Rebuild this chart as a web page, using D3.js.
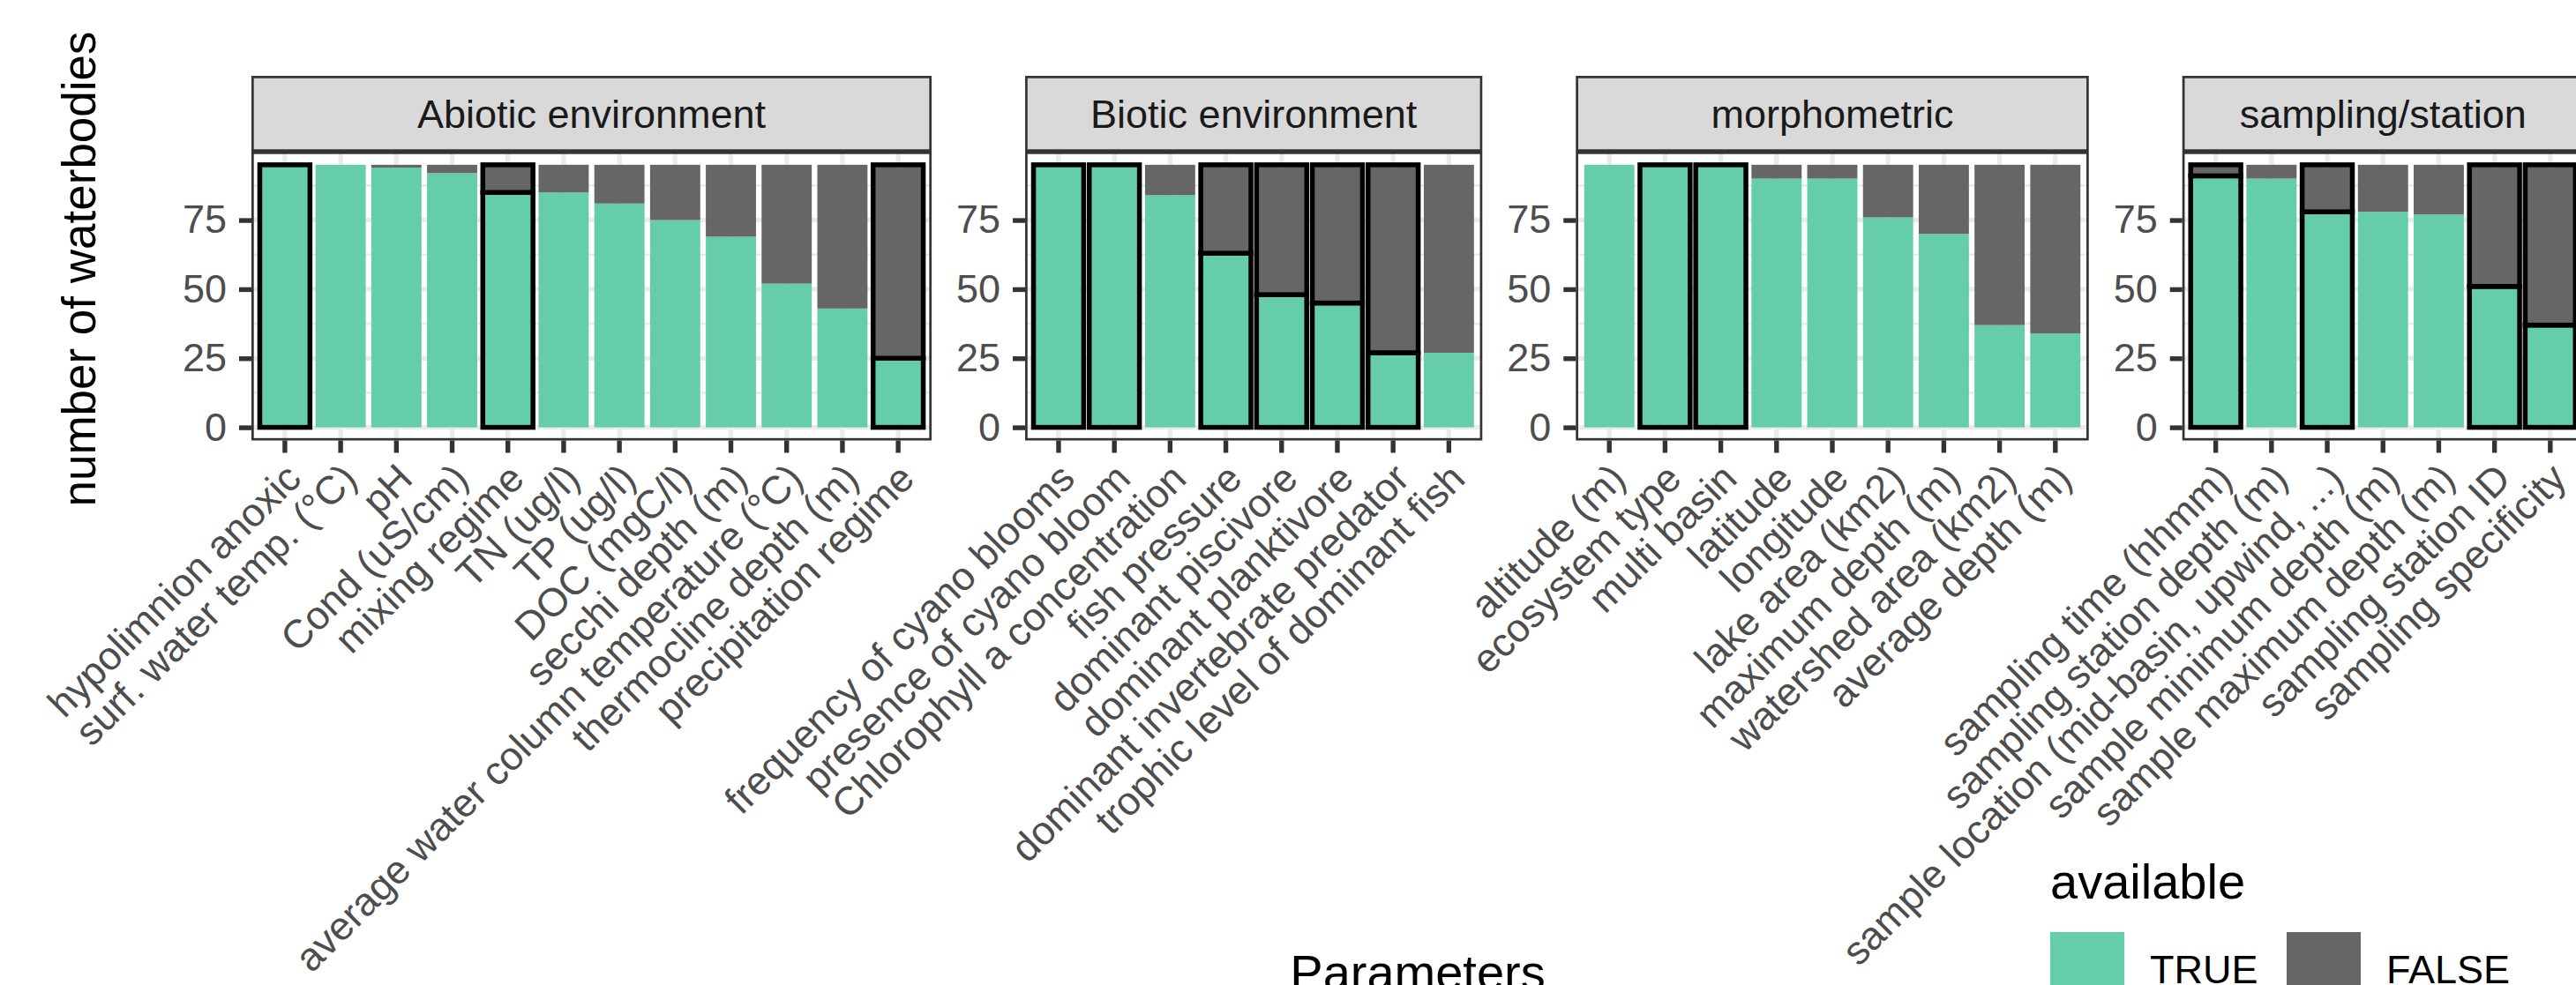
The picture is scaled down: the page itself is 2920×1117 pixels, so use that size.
<!DOCTYPE html>
<html>
<head>
<meta charset="utf-8">
<script src="https://cdn.jsdelivr.net/npm/d3@7"></script>
<style>
  html, body { margin: 0; padding: 0; background: #fff; }
  svg text { font-family: 'Liberation Sans', Arial, sans-serif; }
</style>
</head>
<body>
<div id="chart"></div>
<script>
/* =========================================================
   DATA
========================================================= */

const facetNames = ['Abiotic environment', 'Biotic environment', 'morphometric', 'sampling/station'];

const abioticParams = [
  'hypolimnion anoxic', 'surf. water temp. (°C)', 'pH', 'Cond (uS/cm)', 'mixing regime',
  'TN (ug/l)', 'TP (ug/l)', 'DOC (mgC/l)', 'secchi depth (m)',
  'average water column temperature (°C)', 'thermocline depth (m)', 'precipitation regime',
];
const abioticTrue = [95, 95, 94, 92, 85, 85, 81, 75, 69, 52, 43, 25];
const abioticFalse = [0, 0, 1, 3, 10, 10, 14, 20, 26, 43, 52, 70];
const abioticOutlined = [true, false, false, false, true, false, false, false, false, false, false, true];

const bioticParams = [
  'frequency of cyano blooms', 'presence of cyano bloom', 'Chlorophyll a concentration',
  'fish pressure', 'dominant piscivore', 'dominant planktivore',
  'dominant invertebrate predator', 'trophic level of dominant fish',
];
const bioticTrue = [95, 95, 84, 63, 48, 45, 27, 27];
const bioticFalse = [0, 0, 11, 32, 47, 50, 68, 68];
const bioticOutlined = [true, true, false, true, true, true, true, false];

const morphoParams = [
  'altitude (m)', 'ecosystem type', 'multi basin', 'latitude', 'longitude',
  'lake area (km2)', 'maximum depth (m)', 'watershed area (km2)', 'average depth (m)',
];
const morphoTrue = [95, 95, 95, 90, 90, 76, 70, 37, 34];
const morphoFalse = [0, 0, 0, 5, 5, 19, 25, 58, 61];
const morphoOutlined = [false, true, true, false, false, false, false, false, false];

const samplingParams = [
  'sampling time (hhmm)', 'sampling station depth (m)', 'sample location (mid-basin, upwind, ...)',
  'sample minimum depth (m)', 'sample maximum depth (m)', 'sampling station ID', 'sampling specificity',
];
const samplingTrue = [91, 90, 78, 78, 77, 51, 37];
const samplingFalse = [4, 5, 17, 17, 18, 44, 58];
const samplingOutlined = [true, false, true, false, false, true, true];

const availableKeys = ['TRUE', 'FALSE'];
const yTicks = [0, 25, 50, 75];
const yMinorTicks = [12.5, 37.5, 62.5, 87.5];

/* =========================================================
   CONFIGURATION
========================================================= */

const CONFIG = {
  width: 2920,
  height: 1117,
  plotLeft: 285,
  panelGap: 106,
  step: 63.2,
  stripTop: 86,
  panelTop: 172,
  panelBottom: 499.5,
  yDomain: [-4.75, 99.75],
  colors: { TRUE: '#66CDAA', FALSE: '#666666' },
  grid: '#EBEBEB',
  border: '#333333',
  strip: '#D9D9D9',
  tickText: '#4D4D4D',
  smallFont: 45,
  labelFont: 45,
  bigFont: 56,
};

const facets = [
  { name: facetNames[0], params: abioticParams, t: abioticTrue, f: abioticFalse, o: abioticOutlined },
  { name: facetNames[1], params: bioticParams, t: bioticTrue, f: bioticFalse, o: bioticOutlined },
  { name: facetNames[2], params: morphoParams, t: morphoTrue, f: morphoFalse, o: morphoOutlined },
  { name: facetNames[3], params: samplingParams, t: samplingTrue, f: samplingFalse, o: samplingOutlined },
];

/* =====================================================
   SVG
===================================================== */
const svg = d3
  .select('#chart')
  .append('svg')
  .attr('width', CONFIG.width)
  .attr('height', CONFIG.height)
  .style('display', 'block');

svg.append('rect').attr('width', CONFIG.width).attr('height', CONFIG.height).attr('fill', '#fff');

const yScale = d3
  .scaleLinear()
  .domain(CONFIG.yDomain)
  .range([CONFIG.panelBottom, CONFIG.panelTop]);

const stack = d3.stack().keys(availableKeys);

/* =====================================================
   PANELS
===================================================== */
let left = CONFIG.plotLeft;

facets.forEach((facet, fi) => {
  const n = facet.params.length;
  const w = (n + 0.2) * CONFIG.step;
  const x0 = left;
  left += w + CONFIG.panelGap;

  const xScale = d3
    .scaleBand()
    .domain(facet.params)
    .range([x0, x0 + w])
    .paddingInner(0.1)
    .paddingOuter(0.15);

  const g = svg.append('g').attr('class', 'facet-' + fi);

  g.append('clipPath')
    .attr('id', 'clip' + fi)
    .append('rect')
    .attr('x', x0)
    .attr('y', CONFIG.panelTop)
    .attr('width', w)
    .attr('height', CONFIG.panelBottom - CONFIG.panelTop);

  // strip
  g.append('rect')
    .attr('x', x0 + 1.35)
    .attr('y', CONFIG.stripTop + 1.35)
    .attr('width', w - 2.7)
    .attr('height', CONFIG.panelTop - CONFIG.stripTop - 2.7)
    .attr('fill', CONFIG.strip)
    .attr('stroke', CONFIG.border)
    .attr('stroke-width', 2.7);

  g.append('text')
    .attr('x', x0 + w / 2)
    .attr('y', (CONFIG.stripTop + CONFIG.panelTop) / 2)
    .attr('dy', '0.35em')
    .attr('text-anchor', 'middle')
    .attr('fill', '#1A1A1A')
    .attr('font-size', CONFIG.smallFont)
    .text(facet.name);

  const inner = g.append('g').attr('clip-path', `url(#clip${fi})`);

  // grid
  inner
    .selectAll('.minor')
    .data(yMinorTicks)
    .enter()
    .append('line')
    .attr('x1', x0)
    .attr('x2', x0 + w)
    .attr('y1', (d) => yScale(d))
    .attr('y2', (d) => yScale(d))
    .attr('stroke', CONFIG.grid)
    .attr('stroke-width', 2.7);

  inner
    .selectAll('.major')
    .data(yTicks)
    .enter()
    .append('line')
    .attr('x1', x0)
    .attr('x2', x0 + w)
    .attr('y1', (d) => yScale(d))
    .attr('y2', (d) => yScale(d))
    .attr('stroke', CONFIG.grid)
    .attr('stroke-width', 5.4);

  inner
    .selectAll('.vgrid')
    .data(facet.params)
    .enter()
    .append('line')
    .attr('x1', (d) => xScale(d) + xScale.bandwidth() / 2)
    .attr('x2', (d) => xScale(d) + xScale.bandwidth() / 2)
    .attr('y1', CONFIG.panelTop)
    .attr('y2', CONFIG.panelBottom)
    .attr('stroke', CONFIG.grid)
    .attr('stroke-width', 5.4);

  // bars
  const rows = facet.params.map((p, j) => ({
    param: p,
    TRUE: facet.t[j],
    FALSE: facet.f[j],
    outlined: facet.o[j],
  }));
  const layers = stack(rows);

  layers.forEach((layer) => {
    inner
      .selectAll('.bar-' + layer.key)
      .data(layer.filter((d) => d[1] - d[0] > 0))
      .enter()
      .append('rect')
      .attr('x', (d) => xScale(d.data.param))
      .attr('width', xScale.bandwidth())
      .attr('y', (d) => yScale(d[1]))
      .attr('height', (d) => yScale(d[0]) - yScale(d[1]))
      .attr('fill', CONFIG.colors[layer.key])
      .attr('stroke', (d) => (d.data.outlined ? '#000' : 'none'))
      .attr('stroke-width', 5.5);
  });

  // panel border
  g.append('rect')
    .attr('x', x0 + 1.35)
    .attr('y', CONFIG.panelTop + 1.35)
    .attr('width', w - 2.7)
    .attr('height', CONFIG.panelBottom - CONFIG.panelTop - 2.7)
    .attr('fill', 'none')
    .attr('stroke', CONFIG.border)
    .attr('stroke-width', 2.7);

  // y axis
  const yAxis = d3
    .axisLeft(yScale)
    .tickValues(yTicks)
    .tickSize(14)
    .tickPadding(14);
  const yG = svg
    .append('g')
    .attr('transform', `translate(${x0},0)`)
    .call(yAxis);
  yG.select('.domain').remove();
  yG.selectAll('line').attr('stroke', CONFIG.border).attr('stroke-width', 5.4);
  yG.selectAll('text')
    .attr('fill', CONFIG.tickText)
    .attr('font-size', CONFIG.smallFont)
    .attr('font-family', "'Liberation Sans', Arial, sans-serif");

  // x axis
  const xAxis = d3.axisBottom(xScale).tickSize(14).tickFormat('');
  const xG = svg
    .append('g')
    .attr('transform', `translate(0,${CONFIG.panelBottom})`)
    .call(xAxis);
  xG.select('.domain').remove();
  xG.selectAll('line').attr('stroke', CONFIG.border).attr('stroke-width', 5.4);

  svg
    .append('g')
    .selectAll('text')
    .data(facet.params)
    .enter()
    .append('text')
    .attr(
      'transform',
      (d) =>
        `translate(${xScale(d) + xScale.bandwidth() / 2},${CONFIG.panelBottom + 25}) rotate(-45)`
    )
    .attr('text-anchor', 'end')
    .attr('dy', '0.65em')
    .attr('fill', CONFIG.tickText)
    .attr('font-size', CONFIG.labelFont)
    .text((d) => d);
});

/* =====================================================
   AXIS TITLES
===================================================== */
svg
  .append('text')
  .attr('transform', 'translate(108,305) rotate(-90)')
  .attr('text-anchor', 'middle')
  .attr('fill', '#000')
  .attr('font-size', 53)
  .text('number of waterbodies');

svg
  .append('text')
  .attr('x', 1607)
  .attr('y', 1122)
  .attr('text-anchor', 'middle')
  .attr('fill', '#000')
  .attr('font-size', CONFIG.bigFont)
  .text('Parameters');

/* =====================================================
   LEGEND
===================================================== */
const legend = svg.append('g').attr('transform', 'translate(2324,0)');

legend
  .append('text')
  .attr('x', 0)
  .attr('y', 1019)
  .attr('fill', '#000')
  .attr('font-size', CONFIG.bigFont)
  .text('available');

const legendX = d3.scaleOrdinal().domain(availableKeys).range([0, 268]);

availableKeys.forEach((k) => {
  legend
    .append('rect')
    .attr('x', legendX(k))
    .attr('y', 1057)
    .attr('width', 84)
    .attr('height', 84)
    .attr('fill', CONFIG.colors[k]);
  legend
    .append('text')
    .attr('x', legendX(k) + 113)
    .attr('y', 1115)
    .attr('fill', '#000')
    .attr('font-size', CONFIG.smallFont)
    .text(k);
});
</script>
</body>
</html>
